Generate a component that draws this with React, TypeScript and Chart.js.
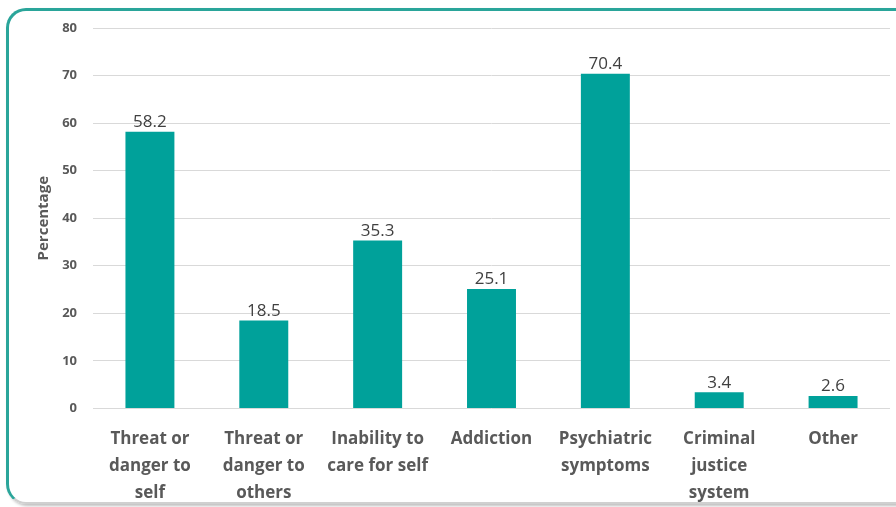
import React, { useEffect, useRef } from "react";
import { Chart, registerables } from "chart.js";

Chart.register(...registerables);

const categories: string[][] = [
  ["Threat or", "danger to", "self"],
  ["Threat or", "danger to", "others"],
  ["Inability to", "care for self"],
  ["Addiction"],
  ["Psychiatric", "symptoms"],
  ["Criminal", "justice", "system"],
  ["Other"],
];
const values: number[] = [58.2, 18.5, 35.3, 25.1, 70.4, 3.4, 2.6];
const yTicks: number[] = [0, 10, 20, 30, 40, 50, 60, 70, 80];
const yTitle = "Percentage";

const BAR = "#00a19a";
const FONT = "'Open Sans', 'Noto Sans', sans-serif";

const labelPlugin = {
  id: "valueLabels",
  afterDatasetsDraw(chart: any) {
    const ctx = chart.ctx;
    const meta = chart.getDatasetMeta(0);
    ctx.save();
    ctx.font = `17px ${FONT}`;
    ctx.fillStyle = "#404040";
    ctx.textAlign = "center";
    ctx.textBaseline = "bottom";
    meta.data.forEach((el: any, i: number) => {
      ctx.fillText(values[i].toFixed(1), el.x, el.y - 1);
    });
    ctx.restore();
  },
};

export default function App() {
  const ref = useRef<HTMLCanvasElement>(null);
  useEffect(() => {
    if (!ref.current) return;
    const chart = new Chart(ref.current, {
      type: "bar",
      data: {
        labels: categories,
        datasets: [
          {
            data: values,
            backgroundColor: BAR,
            barPercentage: 0.86,
            categoryPercentage: 0.5,
          },
        ],
      },
      options: {
        animation: false,
        responsive: false,
        maintainAspectRatio: false,
        layout: { padding: { left: 31, right: 6, top: 28, bottom: -9 } },
        plugins: { legend: { display: false }, tooltip: { enabled: false } },
        scales: {
          x: {
            grid: { display: false },
            border: { display: false },
            ticks: {
              color: "#595959",
              font: { family: FONT, size: 17, weight: "bold", lineHeight: 1.6 },
              maxRotation: 0,
              autoSkip: false,
              padding: 9,
            },
          },
          y: {
            min: 0,
            max: 80,
            afterBuildTicks: (axis: any) => {
              axis.ticks = yTicks.map((v) => ({ value: v }));
            },
            afterFit: (axis: any) => {
              axis.width = 62;
            },
            grid: { color: "#d9d9d9", lineWidth: 1, drawTicks: false },
            border: { display: false },
            ticks: {
              color: "#595959",
              font: { family: FONT, size: 13, weight: "bold" },
              padding: 16,
            },
            title: {
              display: true,
              text: yTitle,
              color: "#595959",
              font: { family: FONT, size: 15, weight: "bold" },
              padding: { top: 4, bottom: 4 },
            },
          },
        },
      },
      plugins: [labelPlugin],
    });
    return () => chart.destroy();
  }, []);

  return (
    <div style={{ position: "fixed", left: 0, top: 0, width: 896, height: 507, background: "#fff", overflow: "hidden" }}>
      <div
        style={{
          position: "absolute",
          left: 6,
          top: 8,
          width: 920,
          height: 496,
          borderTop: "3px solid #2aa59a",
          borderLeft: "3px solid #2aa59a",
          borderBottom: "2px solid #d0d0d0",
          borderRadius: 20,
          boxShadow: "2px 2px 3px rgba(0,0,0,0.25)",
          boxSizing: "border-box",
        }}
      />
      <canvas ref={ref} width={896} height={507} style={{ position: "absolute", left: 0, top: 0 }} />
    </div>
  );
}
